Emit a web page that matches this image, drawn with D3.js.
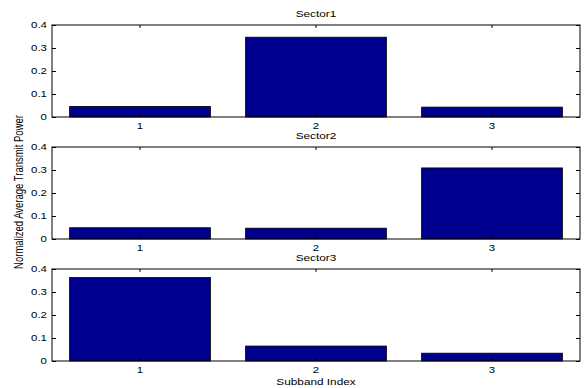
<!DOCTYPE html>
<html>
<head>
<meta charset="utf-8">
<script src="https://cdn.jsdelivr.net/npm/d3@7"></script>
<style>
  html, body { margin: 0; padding: 0; background: #fff; }
  svg { display: block; }
  text { font-family: "Liberation Sans", Arial, Helvetica, sans-serif; fill: #000; }
</style>
</head>
<body>
<svg id="chart" width="586" height="388"></svg>
<script>
// Normalized average transmit power per subband, one array per sector
const subbands = ["1", "2", "3"];
const sectorNames = ["Sector1", "Sector2", "Sector3"];
const sector1 = [0.046, 0.347, 0.043];
const sector2 = [0.049, 0.047, 0.309];
const sector3 = [0.363, 0.065, 0.034];
const yTickValues = [0, 0.1, 0.2, 0.3, 0.4];
const yLabel = "Normalized Average Transmit Power";
const xLabel = "Subband Index";

const sectors = [sector1, sector2, sector3];

const W = 586, H = 388;
const left = 52, right = 580;
const firstTop = 25, panelStep = 122, panelH = 92;
const sx = 1.27;               // horizontal text stretch
const barColor = "#00008f";

const svg = d3.select("#chart");

const x = d3.scaleBand()
  .domain(subbands)
  .range([left, right])
  .paddingInner(0.2)
  .paddingOuter(0.1);

function stretchText(sel) {
  sel.each(function () {
    const t = d3.select(this);
    t.attr("transform", `scale(${sx},1)`);
  });
}

sectors.forEach((vals, i) => {
  const top = firstTop + i * panelStep;
  const bottom = top + panelH;
  const y = d3.scaleLinear().domain([0, 0.4]).range([bottom, top]);
  const g = svg.append("g");

  // bars
  g.selectAll("rect.bar")
    .data(vals)
    .join("rect")
    .attr("class", "bar")
    .attr("x", (d, j) => x(subbands[j]))
    .attr("width", x.bandwidth())
    .attr("y", d => y(d))
    .attr("height", d => y(0) - y(d))
    .attr("fill", barColor)
    .attr("stroke", "#000")
    .attr("stroke-width", 0.8);

  // left axis with inward ticks
  const gl = g.append("g")
    .attr("transform", `translate(${left},0)`)
    .call(d3.axisLeft(y).tickValues(yTickValues).tickSizeInner(-4).tickSizeOuter(0).tickPadding(4).tickFormat(d3.format("")));
  gl.select(".domain").remove();
  gl.selectAll("text").attr("font-size", 9).attr("font-family", null).call(stretchText);
  gl.selectAll("line").attr("stroke", "#000");

  // right axis, ticks only
  const gr = g.append("g")
    .attr("transform", `translate(${right},0)`)
    .call(d3.axisRight(y).tickValues(yTickValues).tickSizeInner(-4).tickSizeOuter(0).tickFormat(""));
  gr.select(".domain").remove();

  // top axis, ticks only
  const gt = g.append("g")
    .attr("transform", `translate(0,${top})`)
    .call(d3.axisTop(x).tickSizeInner(-3).tickSizeOuter(0).tickFormat(""));
  gt.select(".domain").remove();

  // bottom axis with category labels
  const gb = g.append("g")
    .attr("transform", `translate(0,${bottom})`)
    .call(d3.axisBottom(x).tickSizeInner(-3).tickSizeOuter(0).tickPadding(6));
  gb.select(".domain").remove();
  gb.selectAll("text").attr("font-size", 9).attr("font-family", null).call(stretchText);

  // axes box
  g.append("rect")
    .attr("x", left)
    .attr("y", top)
    .attr("width", right - left)
    .attr("height", panelH)
    .attr("fill", "none")
    .attr("stroke", "#000")
    .attr("stroke-width", 1);

  // panel title
  g.append("text")
    .attr("transform", `translate(${(left + right) / 2},${top - 8}) scale(${sx},1)`)
    .attr("text-anchor", "middle")
    .attr("font-size", 9.3)
    .text(sectorNames[i]);
});

// shared axis labels
svg.append("text")
  .attr("transform", `translate(${left + (right - left) / 2},${firstTop + 2 * panelStep + panelH + 24}) scale(${sx},1)`)
  .attr("text-anchor", "middle")
  .attr("font-size", 9.3)
  .text(xLabel);

svg.append("text")
  .attr("transform", `translate(23,${firstTop + panelStep + panelH / 2 - 1}) scale(${sx},1) rotate(-90)`)
  .attr("text-anchor", "middle")
  .attr("font-size", 9.5)
  .text(yLabel);
</script>
</body>
</html>
